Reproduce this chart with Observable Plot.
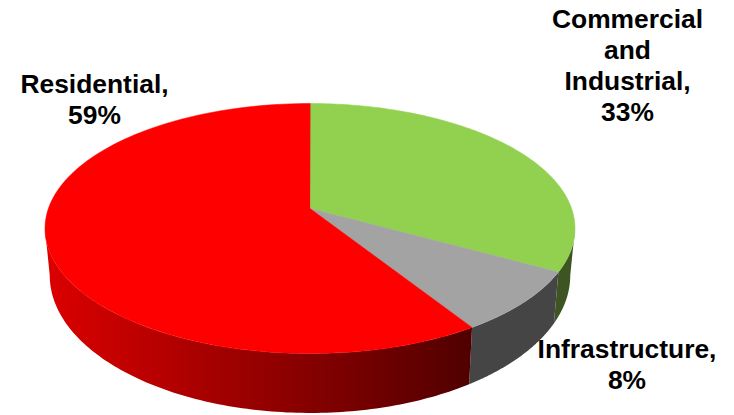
<!DOCTYPE html>
<html><head><meta charset="utf-8">
<script src="https://cdn.jsdelivr.net/npm/d3@7"></script>
<script src="https://cdn.jsdelivr.net/npm/@observablehq/plot@0.6"></script>
<style>html,body{margin:0;padding:0;background:#fff}svg{display:block}</style>
</head><body><div id="chart"></div>
<script>
const categories = ["Commercial\nand\nIndustrial", "Infrastructure", "Residential"];
const shares = [33, 8, 59];
const topColors = ["#92d050", "#a3a3a3", "#ff0000"];
const wallFills = ["#3c5522", "#454545", "url(#residentialWall)"];
const residentialWallStops = ["#dc0000", "#500000"];

// Tilted-disc view: perspective strength and the lower rim's offset/scale
const persp = 0.16, rimScaleX = 0.982, rimScaleY = 1.10, rimDrop = 0.369;
const rad = p => p * 2 * Math.PI / 100;               // percent clockwise from 12 o'clock
const topRim = p => {
  const w = 1 + persp * Math.cos(rad(p));
  return [Math.sin(rad(p)) / w, -Math.cos(rad(p)) / w];
};
const lowRim = p => {
  const [u, v] = topRim(p);
  return [u * rimScaleX, rimDrop + v * rimScaleY];
};
const steps = (a, b, n) => d3.range(n + 1).map(i => a + (b - a) * i / n);

// cumulative start/end of each slice
let acc = 0;
const slices = categories.map((c, i) => {
  const s = {name: c, share: shares[i], color: topColors[i], wall: wallFills[i], start: acc, end: acc + shares[i]};
  acc += shares[i];
  return s;
});

// top faces
const faces = slices.flatMap(s => [
  {k: s.name, color: s.color, x: 0, y: 0},
  ...steps(s.start, s.end, 120).map(p => {
    const [x, y] = topRim(p);
    return {k: s.name, color: s.color, x, y};
  })
]);

// side walls: only the front half of the disc is visible
const visA = Math.acos(-persp) * 100 / (2 * Math.PI), visB = 100 - visA;
const wallPoly = s => {
  const a = Math.max(s.start, visA), b = Math.min(s.end, visB);
  const e = steps(a, b, 120);
  return [...e.map(topRim), ...e.slice().reverse().map(lowRim)].map(([x, y]) => ({x, y}));
};

const labelOf = s => `${s.name},\n${s.share}%`;
const labelStyle = {fontFamily: "'Liberation Sans', Arial, sans-serif", fontWeight: "bold", fontSize: 26.4,
  fill: "#000", lineHeight: 1.165, lineAnchor: "top", frameAnchor: "top-left", textAnchor: "middle"};

const plot = Plot.plot({
  width: 734, height: 415, margin: 0,
  x: {domain: [-1, 1], range: [47.9, 571.1], axis: null},
  y: {domain: [-1, 1], range: [86.2, 329.8], axis: null},
  marks: [
    () => {
      const ns = "http://www.w3.org/2000/svg";
      const defs = document.createElementNS(ns, "defs");
      const g = document.createElementNS(ns, "linearGradient");
      g.setAttribute("id", "residentialWall");
      residentialWallStops.forEach((c, i) => {
        const st = document.createElementNS(ns, "stop");
        st.setAttribute("offset", i);
        st.setAttribute("stop-color", c);
        g.append(st);
      });
      defs.append(g);
      return defs;
    },
    ...slices.map(s => Plot.line(wallPoly(s), {x: "x", y: "y", fill: s.wall, stroke: "none", curve: "linear-closed"})),
    Plot.line(faces, {x: "x", y: "y", z: "k", fill: "color", stroke: "color", strokeWidth: 0.5, curve: "linear-closed"}),
    Plot.text([labelOf(slices[0])], {...labelStyle, text: d => d, dx: 627, dy: 6}),
    Plot.text([labelOf(slices[1])], {...labelStyle, text: d => d, dx: 626.5, dy: 335.5}),
    Plot.text([labelOf(slices[2])], {...labelStyle, text: d => d, dx: 94, dy: 70.5})
  ]
});
document.getElementById("chart").append(plot);
</script></body></html>
